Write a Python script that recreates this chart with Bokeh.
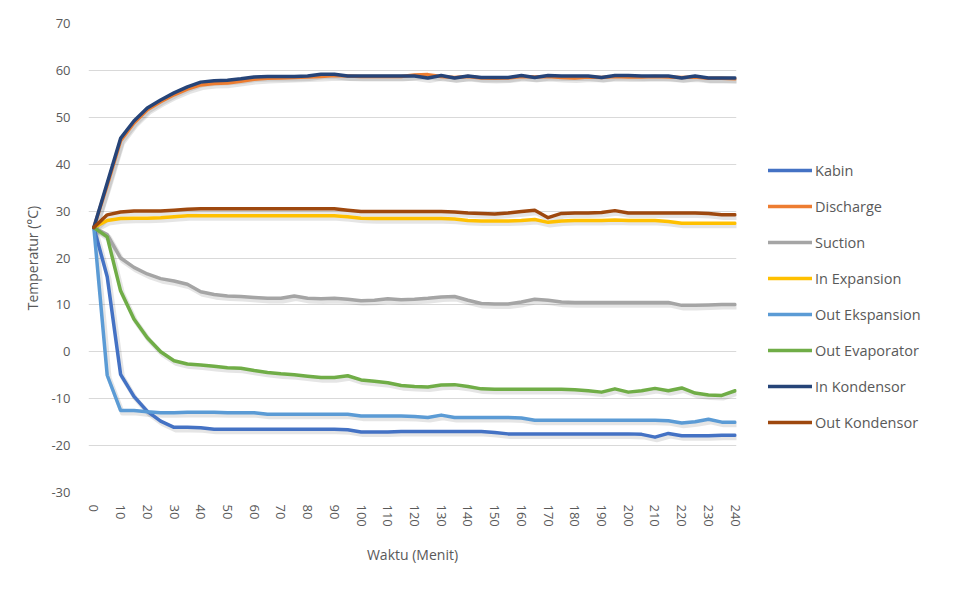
from bokeh.plotting import figure
from bokeh.models import Range1d, FixedTicker, Legend, LegendItem, PrintfTickFormatter
from bokeh.embed import file_html
from bokeh.resources import INLINE

# ---- data ----
waktu = list(range(0, 245, 5))

kabin = [26.5, 16.0, -4.8, -9.5, -12.7, -14.8, -16.1, -16.1, -16.2, -16.5,
         -16.5, -16.5, -16.5, -16.5, -16.5, -16.5, -16.5, -16.5, -16.5, -16.6,
         -17.1, -17.1, -17.1, -17.0, -17.0, -17.0, -17.0, -17.0, -17.0, -17.0,
         -17.2, -17.5, -17.5, -17.5, -17.5, -17.5, -17.5, -17.5, -17.5, -17.5,
         -17.5, -17.6, -18.2, -17.4, -17.9, -17.9, -17.9, -17.8, -17.8]

discharge = [26.5, 35.5, 45.0, 48.8, 51.6, 53.3, 54.8, 56.0, 56.9, 57.2,
             57.3, 57.7, 58.1, 58.3, 58.4, 58.5, 58.6, 58.7, 58.9, 58.8,
             58.7, 58.7, 58.7, 58.7, 59.0, 59.1, 58.7, 58.5, 58.7, 58.4,
             58.3, 58.4, 58.7, 58.6, 58.7, 58.5, 58.4, 58.6, 58.5, 58.7,
             58.6, 58.6, 58.7, 58.6, 58.5, 58.6, 58.3, 58.3, 58.2]

suction = [26.5, 25.0, 20.0, 18.0, 16.6, 15.6, 15.1, 14.4, 12.8, 12.2,
           11.9, 11.8, 11.6, 11.4, 11.4, 11.9, 11.4, 11.3, 11.4, 11.2,
           10.9, 11.0, 11.3, 11.1, 11.2, 11.4, 11.7, 11.8, 11.0, 10.3,
           10.2, 10.2, 10.6, 11.2, 11.0, 10.6, 10.5, 10.5, 10.5, 10.5,
           10.5, 10.5, 10.5, 10.5, 9.9, 9.9, 10.0, 10.1, 10.1]

in_expansion = [26.5, 28.0, 28.4, 28.5, 28.5, 28.6, 28.8, 29.0, 29.0, 29.0,
                29.0, 29.0, 29.0, 29.0, 29.0, 29.0, 29.0, 29.0, 29.0, 28.8,
                28.5, 28.4, 28.4, 28.4, 28.4, 28.4, 28.4, 28.3, 28.0, 27.9,
                27.9, 27.9, 28.0, 28.2, 27.6, 27.9, 28.0, 28.0, 28.0, 28.1,
                28.0, 28.0, 28.0, 27.8, 27.4, 27.4, 27.4, 27.4, 27.4]

out_ekspansion = [26.5, -5.0, -12.5, -12.5, -12.8, -13.0, -13.0, -12.9, -12.9, -12.9,
                  -13.0, -13.0, -13.0, -13.3, -13.3, -13.3, -13.3, -13.3, -13.3, -13.3,
                  -13.7, -13.7, -13.7, -13.7, -13.8, -14.0, -13.5, -14.0, -14.0, -14.0,
                  -14.0, -14.0, -14.1, -14.6, -14.6, -14.6, -14.6, -14.6, -14.6, -14.6,
                  -14.6, -14.6, -14.6, -14.7, -15.2, -14.9, -14.4, -15.0, -15.0]

out_evaporator = [26.5, 24.5, 13.0, 7.0, 3.0, 0.0, -1.9, -2.6, -2.8, -3.1,
                  -3.4, -3.5, -4.0, -4.4, -4.7, -4.9, -5.2, -5.5, -5.5, -5.1,
                  -6.0, -6.3, -6.6, -7.2, -7.4, -7.5, -7.1, -7.0, -7.4, -7.9,
                  -8.0, -8.0, -8.0, -8.0, -8.0, -8.0, -8.1, -8.3, -8.6, -7.9,
                  -8.6, -8.3, -7.8, -8.3, -7.7, -8.8, -9.2, -9.3, -8.3]

in_kondensor = [26.5, 36.0, 45.5, 49.2, 52.0, 53.7, 55.2, 56.5, 57.5, 57.8,
                57.9, 58.2, 58.6, 58.7, 58.7, 58.7, 58.8, 59.2, 59.2, 58.8,
                58.8, 58.8, 58.8, 58.8, 58.8, 58.4, 58.9, 58.4, 58.8, 58.5,
                58.5, 58.5, 58.9, 58.5, 58.9, 58.8, 58.8, 58.8, 58.5, 58.9,
                58.9, 58.8, 58.8, 58.8, 58.4, 58.8, 58.4, 58.4, 58.4]

out_kondensor = [26.5, 29.2, 29.8, 30.0, 30.0, 30.0, 30.2, 30.4, 30.5, 30.5,
                 30.5, 30.5, 30.5, 30.5, 30.5, 30.5, 30.5, 30.5, 30.5, 30.2,
                 29.9, 29.9, 29.9, 29.9, 29.9, 29.9, 29.9, 29.8, 29.6, 29.5,
                 29.4, 29.6, 29.9, 30.2, 28.6, 29.5, 29.6, 29.6, 29.7, 30.1,
                 29.6, 29.6, 29.6, 29.6, 29.6, 29.6, 29.5, 29.2, 29.2]

series_names = ["Kabin", "Discharge", "Suction", "In Expansion", "Out Ekspansion",
                "Out Evaporator", "In Kondensor", "Out Kondensor"]
series_values = [kabin, discharge, suction, in_expansion, out_ekspansion,
                 out_evaporator, in_kondensor, out_kondensor]
series_colors = ["#4472C4", "#ED7D31", "#A5A5A5", "#FFC000", "#5B9BD5",
                 "#70AD47", "#264478", "#9E480E"]

y_ticks = list(range(-30, 80, 10))
x_ticks = list(range(0, 250, 10))

FONT = "Open Sans"
TXT = "#595959"

p = figure(frame_width=648, frame_height=469,
           x_range=Range1d(-2, 240.5), y_range=Range1d(-30, 70),
           output_backend="svg", toolbar_location=None,
           min_border_left=88, min_border_right=221,
           min_border_top=23, min_border_bottom=98)

p.background_fill_color = "white"
p.border_fill_color = "white"
p.outline_line_color = None

p.xgrid.grid_line_color = None
p.ygrid.grid_line_color = "#D9D9D9"
p.ygrid.grid_line_width = 1

p.yaxis.ticker = FixedTicker(ticks=y_ticks)
p.xaxis.ticker = FixedTicker(ticks=x_ticks)
p.yaxis.formatter = PrintfTickFormatter(format="%d")
p.xaxis.formatter = PrintfTickFormatter(format="%d")

for ax in (p.xaxis, p.yaxis):
    ax.axis_line_color = None
    ax.major_tick_line_color = None
    ax.minor_tick_line_color = None
    ax.major_tick_out = 0
    ax.major_tick_in = 0
    ax.minor_tick_out = 0
    ax.major_label_text_font = FONT
    ax.major_label_text_font_size = "13px"
    ax.major_label_text_color = TXT
    ax.axis_label_text_font = FONT
    ax.axis_label_text_font_size = "14px"
    ax.axis_label_text_color = TXT
    ax.axis_label_text_font_style = "normal"

p.yaxis.major_label_standoff = 18
p.yaxis.axis_label = "Temperatur (°C)"
p.yaxis.axis_label_standoff = 6
p.xaxis.major_label_orientation = "vertical"
p.xaxis.major_label_standoff = 12
p.xaxis.axis_label = "Waktu (Menit)"
p.xaxis.axis_label_standoff = 15

# soft shadows (Excel style), derived from the data
shadow_x = [t + 0.7 for t in waktu]
for vals in series_values:
    p.line(shadow_x, [v - 0.55 for v in vals], line_color="black",
           line_alpha=0.10, line_width=5, line_join="round")

items = []
for name, vals, col in zip(series_names, series_values, series_colors):
    r = p.line(waktu, vals, line_color=col, line_width=3.5, line_join="round",
               line_cap="round")
    items.append(LegendItem(label=name, renderers=[r]))

legend = Legend(items=items, location="top_left")
legend.title = " "
legend.title_text_font_size = "10px"
legend.title_standoff = 94
legend.glyph_width = 44
legend.glyph_height = 20
legend.label_height = 20
legend.spacing = 16
legend.padding = 0
legend.margin = 32
legend.label_standoff = 3
legend.border_line_color = None
legend.background_fill_alpha = 0
legend.label_text_font = FONT
legend.label_text_font_size = "14.5px"
legend.label_text_color = TXT
p.add_layout(legend, "right")

open("out.html", "w").write(file_html(p, INLINE))
